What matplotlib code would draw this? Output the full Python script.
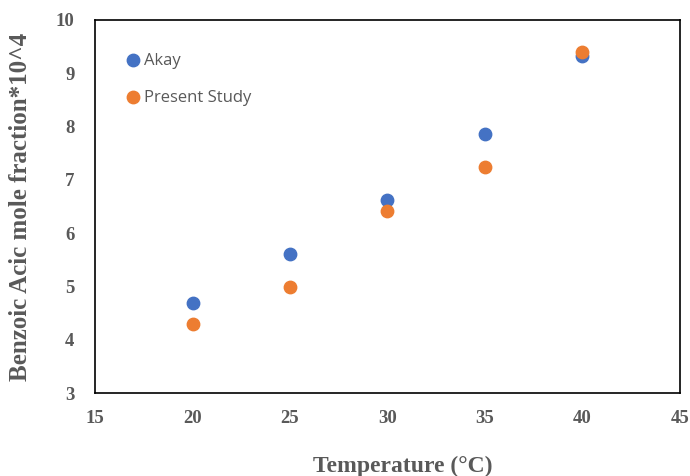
import matplotlib
matplotlib.use("Agg")
import matplotlib.pyplot as plt

# data
temps = [20, 25, 30, 35, 40]
akay = [4.69, 5.61, 6.62, 7.86, 9.32]
present = [4.30, 4.99, 6.42, 7.24, 9.40]

xticks = [15, 20, 25, 30, 35, 40, 45]
yticks = [3, 4, 5, 6, 7, 8, 9, 10]

gray = "#595959"
serif = "Liberation Serif"

fig = plt.figure(figsize=(6.9, 4.76), dpi=100)
ax = fig.add_axes([0.138, 0.174, 0.847, 0.784])

ax.scatter(temps, akay, s=80, color="#4472C4", label="Akay", zorder=3)
ax.scatter(temps, present, s=80, color="#ED7D31", label="Present Study", zorder=3)

ax.set_xlim(15, 45)
ax.set_ylim(3, 10)
ax.set_xticks(xticks)
ax.set_yticks(yticks)
ax.tick_params(axis="x", length=0, pad=12, colors=gray)
ax.tick_params(axis="y", length=0, pad=15, colors=gray)
for lab in ax.get_xticklabels() + ax.get_yticklabels():
    lab.set_family(serif)
    lab.set_fontweight("bold")
    lab.set_fontsize(13.5)
for sp in ax.spines.values():
    sp.set_color("black")
    sp.set_linewidth(1.2)

ax.set_xlabel("Temperature (°C)", family=serif, fontweight="bold",
              fontsize=17, color=gray)
ax.xaxis.set_label_coords(0.526, -0.168)
ax.set_ylabel("Benzoic Acic mole fraction*10^4", family=serif, fontweight="bold",
              fontsize=18, color=gray, labelpad=17)

leg = ax.legend(loc="upper left", bbox_to_anchor=(0.036, 0.93), frameon=False,
                handlelength=1.2, handletextpad=0.05, labelspacing=1.25,
                borderaxespad=0, prop={"family": "Open Sans", "size": 12})
for t in leg.get_texts():
    t.set_color(gray)

fig.savefig("out.png", dpi=100)
